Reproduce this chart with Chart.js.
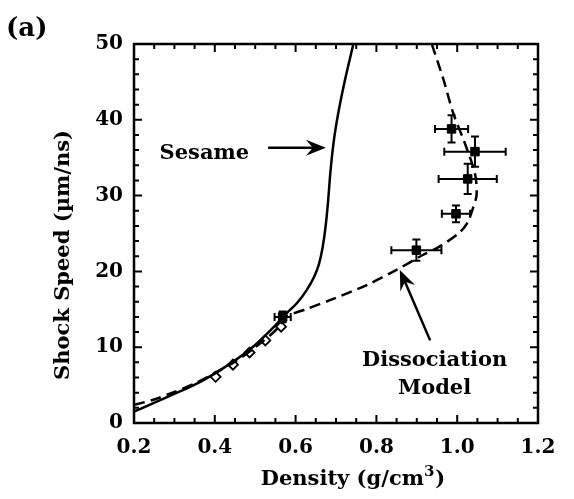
<!DOCTYPE html>
<html>
<head>
<meta charset="utf-8">
<script src="https://cdn.jsdelivr.net/npm/chart.js@4.4.0/dist/chart.umd.min.js"></script>
<style>
  html, body { margin: 0; padding: 0; background: #fff; }
  #wrap { width: 574px; height: 499px; }
</style>
</head>
<body>
<div id="wrap"><canvas id="shockChart"></canvas></div>
<script>
// Sesame EOS curve (solid)
const sesameDensity = [0.2, 0.29, 0.37, 0.44, 0.5, 0.545, 0.578, 0.603, 0.627, 0.646, 0.658, 0.667, 0.674, 0.68, 0.686, 0.694, 0.706, 0.722, 0.743];
const sesameSpeed   = [1.5, 3.6, 5.6, 7.9, 10.3, 12.6, 14.5, 15.8, 17.5, 19.3, 21.0, 23.2, 25.8, 29.0, 33.0, 37.0, 41.0, 45.2, 50];

// Dissociation model curve (dashed)
const modelDensity = [0.2, 0.25, 0.3, 0.35, 0.4, 0.45, 0.5, 0.55, 0.578, 0.63, 0.685, 0.776, 0.85, 0.916, 0.957, 1.003, 1.024, 1.04, 1.048, 1.044, 1.019, 0.99, 0.965, 0.937];
const modelSpeed   = [2.4, 3.1, 4.1, 5.2, 6.6, 8.1, 10.0, 12.2, 14.0, 15.1, 16.2, 18.2, 20.2, 22.2, 23.3, 25.0, 26.3, 28.5, 30.1, 32.9, 36.9, 40.9, 45.5, 50];

// Laser-driven shock data (filled squares with error bars)
const expDensity    = [0.568, 0.899, 0.997, 1.026, 1.044, 0.986];
const expSpeed      = [14.0, 22.8, 27.6, 32.2, 35.8, 38.8];
const expDensityErr = [0.02, 0.062, 0.035, 0.072, 0.076, 0.041];
const expSpeedErr   = [0.7, 1.4, 1.1, 2.0, 2.0, 1.8];

// Gas-gun data (open diamonds)
const gasDensity = [0.402, 0.445, 0.486, 0.525, 0.564];
const gasSpeed   = [6.1, 7.7, 9.3, 10.9, 12.7];

const xTicks = [0.2, 0.4, 0.6, 0.8, 1.0, 1.2];
const yTicks = [0, 10, 20, 30, 40, 50];

const serif = "'DejaVu Serif', serif";

const toPoints = (xs, ys) => xs.map((x, i) => ({ x, y: ys[i] }));

// arrow with a notched head, drawn from (x1,y1) to the tip (x2,y2)
function arrow(ctx, x1, y1, x2, y2) {
  const a = Math.atan2(y2 - y1, x2 - x1);
  const len = 20, half = 8, notch = 13;
  ctx.beginPath();
  ctx.moveTo(x1, y1);
  ctx.lineTo(x2 - Math.cos(a) * notch, y2 - Math.sin(a) * notch);
  ctx.stroke();
  ctx.beginPath();
  ctx.moveTo(x2, y2);
  ctx.lineTo(x2 - len * Math.cos(a) + half * Math.sin(a), y2 - len * Math.sin(a) - half * Math.cos(a));
  ctx.lineTo(x2 - notch * Math.cos(a), y2 - notch * Math.sin(a));
  ctx.lineTo(x2 - len * Math.cos(a) - half * Math.sin(a), y2 - len * Math.sin(a) + half * Math.cos(a));
  ctx.closePath();
  ctx.fill();
}

const decorations = {
  id: 'decorations',
  beforeDatasetsDraw(chart) {
    const { ctx, scales: { x, y } } = chart;
    ctx.save();
    ctx.strokeStyle = '#000';
    ctx.lineWidth = 2;
    expDensity.forEach((d, i) => {
      const cx = x.getPixelForValue(d), cy = y.getPixelForValue(expSpeed[i]);
      const xl = x.getPixelForValue(d - expDensityErr[i]), xr = x.getPixelForValue(d + expDensityErr[i]);
      const yt = y.getPixelForValue(expSpeed[i] + expSpeedErr[i]), yb = y.getPixelForValue(expSpeed[i] - expSpeedErr[i]);
      ctx.beginPath();
      ctx.moveTo(xl, cy); ctx.lineTo(xr, cy);
      ctx.moveTo(xl, cy - 4); ctx.lineTo(xl, cy + 4);
      ctx.moveTo(xr, cy - 4); ctx.lineTo(xr, cy + 4);
      ctx.moveTo(cx, yt); ctx.lineTo(cx, yb);
      ctx.moveTo(cx - 4, yt); ctx.lineTo(cx + 4, yt);
      ctx.moveTo(cx - 4, yb); ctx.lineTo(cx + 4, yb);
      ctx.stroke();
    });
    ctx.restore();
  },
  afterDraw(chart) {
    const { ctx, chartArea: area, scales: { x, y } } = chart;
    ctx.save();
    ctx.strokeStyle = '#000';
    ctx.fillStyle = '#000';

    // frame
    ctx.lineWidth = 2.5;
    ctx.strokeRect(area.left, area.top, area.right - area.left, area.bottom - area.top);

    // inward ticks on all four sides
    ctx.lineWidth = 2;
    ctx.beginPath();
    for (let v = 0.2; v <= 1.2001; v += 0.05) {
      const px = x.getPixelForValue(v);
      const major = Math.abs(v * 5 - Math.round(v * 5)) < 1e-6;
      const l = major ? 8 : 5;
      ctx.moveTo(px, area.bottom); ctx.lineTo(px, area.bottom - l);
      ctx.moveTo(px, area.top); ctx.lineTo(px, area.top + l);
    }
    for (let v = 0; v <= 50; v += 2) {
      const py = y.getPixelForValue(v);
      const l = v % 10 === 0 ? 8 : 5;
      ctx.moveTo(area.left, py); ctx.lineTo(area.left + l, py);
      ctx.moveTo(area.right, py); ctx.lineTo(area.right - l, py);
    }
    ctx.stroke();

    // panel label
    ctx.font = `bold 26px ${serif}`;
    ctx.textAlign = 'left';
    ctx.textBaseline = 'middle';
    ctx.fillText('(a)', 6, 29);

    // axis titles
    ctx.font = `bold 21px ${serif}`;
    ctx.save();
    ctx.translate(64, 255);
    ctx.rotate(-Math.PI / 2);
    ctx.textAlign = 'center';
    ctx.fillText('Shock Speed (µm/ns)', 0, 0);
    ctx.restore();

    const base = 'Density (g/cm', sup = '3', tail = ')';
    ctx.font = `bold 21px ${serif}`;
    const wBase = ctx.measureText(base).width, wTail = ctx.measureText(tail).width;
    ctx.font = `bold 15px ${serif}`;
    const wSup = ctx.measureText(sup).width;
    let tx = 353 - (wBase + wSup + wTail + 1) / 2;
    ctx.textAlign = 'left';
    ctx.font = `bold 21px ${serif}`;
    ctx.fillText(base, tx, 480);
    ctx.font = `bold 15px ${serif}`;
    ctx.fillText(sup, tx + wBase, 472);
    ctx.font = `bold 21px ${serif}`;
    ctx.fillText(tail, tx + wBase + wSup + 1, 480);

    // annotations
    ctx.font = `bold 21px ${serif}`;
    ctx.textAlign = 'center';
    ctx.fillText('Sesame', x.getPixelForValue(0.374), y.getPixelForValue(35.6));
    ctx.fillText('Dissociation', x.getPixelForValue(0.944), y.getPixelForValue(8.3));
    ctx.fillText('Model', x.getPixelForValue(0.944), y.getPixelForValue(4.6));

    ctx.lineWidth = 2.5;
    arrow(ctx, x.getPixelForValue(0.532), y.getPixelForValue(36.3), x.getPixelForValue(0.675), y.getPixelForValue(36.3));
    arrow(ctx, x.getPixelForValue(0.933), y.getPixelForValue(10.9), x.getPixelForValue(0.858), y.getPixelForValue(20.2));
    ctx.restore();
  }
};

new Chart(document.getElementById('shockChart'), {
  type: 'scatter',
  data: {
    datasets: [
      {
        label: 'Sesame',
        data: toPoints(sesameDensity, sesameSpeed),
        showLine: true,
        borderColor: '#000',
        borderWidth: 2.5,
        pointRadius: 0,
        cubicInterpolationMode: 'monotone'
      },
      {
        label: 'Dissociation Model',
        data: toPoints(modelDensity, modelSpeed),
        showLine: true,
        borderColor: '#000',
        borderWidth: 2.5,
        borderDash: [11, 6],
        pointRadius: 0,
        tension: 0.3
      },
      {
        label: 'Gas gun',
        data: toPoints(gasDensity, gasSpeed),
        pointStyle: 'rectRot',
        pointRadius: 5,
        backgroundColor: '#fff',
        borderColor: '#000',
        borderWidth: 1.8
      },
      {
        label: 'Laser',
        data: toPoints(expDensity, expSpeed),
        pointStyle: 'rect',
        pointRadius: 6,
        backgroundColor: '#000',
        borderColor: '#000',
        borderWidth: 1
      }
    ]
  },
  options: {
    responsive: true,
    maintainAspectRatio: false,
    animation: false,
    layout: { padding: { top: 44, right: 36, left: 0, bottom: 0 } },
    plugins: {
      legend: { display: false },
      tooltip: { enabled: false }
    },
    scales: {
      x: {
        type: 'linear',
        min: 0.2,
        max: 1.2,
        afterFit: s => { s.height = 76; },
        afterBuildTicks: s => { s.ticks = xTicks.map(v => ({ value: v })); },
        grid: { display: false },
        border: { display: false },
        ticks: {
          padding: 5,
          color: '#000',
          font: { family: serif, size: 20, weight: 'bold' },
          callback: v => v.toFixed(1)
        }
      },
      y: {
        min: 0,
        max: 50,
        afterFit: s => { s.width = 134; },
        afterBuildTicks: s => { s.ticks = yTicks.map(v => ({ value: v })); },
        grid: { display: false },
        border: { display: false },
        ticks: {
          padding: 3,
          color: '#000',
          font: { family: serif, size: 20, weight: 'bold' }
        }
      }
    }
  },
  plugins: [decorations]
});
</script>
</body>
</html>
